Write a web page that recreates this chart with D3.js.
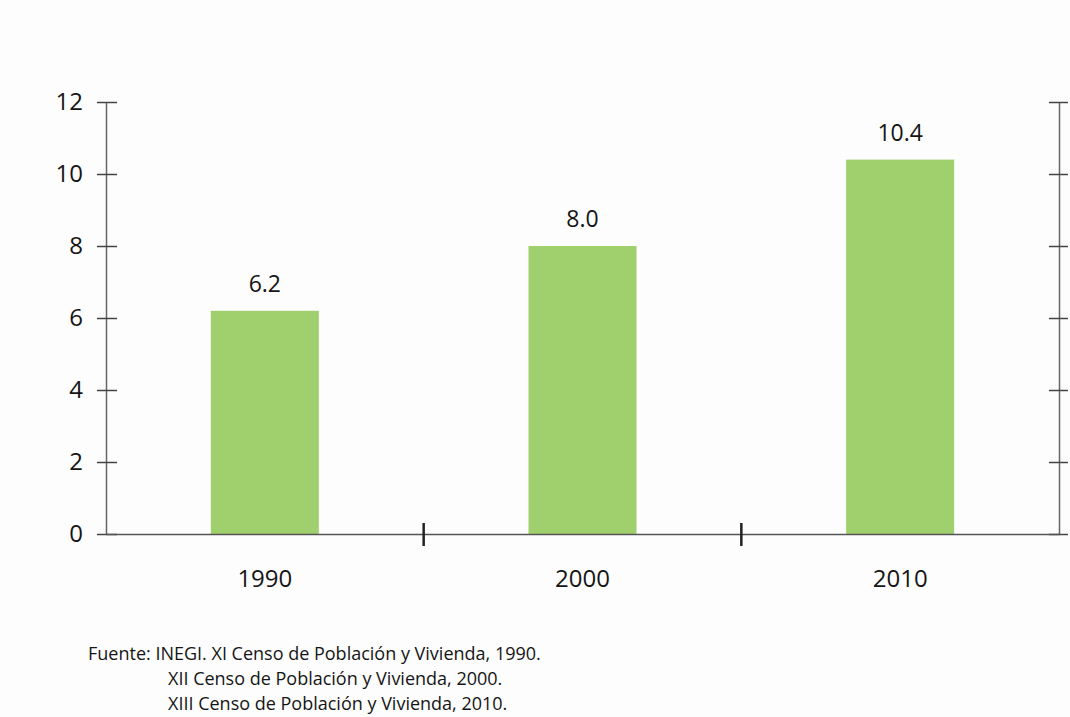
<!DOCTYPE html>
<html>
<head>
<meta charset="utf-8">
<script src="https://cdn.jsdelivr.net/npm/d3@7"></script>
<style>
  body { margin: 0; background: #fdfdfd; }
  text { font-family: "Open Sans", "Noto Sans", sans-serif; fill: #151515; }
</style>
</head>
<body>
<script>
// data
const years = ["1990", "2000", "2010"]
const values = [6.2, 8.0, 10.4]
const yTicks = [0, 2, 4, 6, 8, 10, 12]
const sourceLines = [
    "Fuente: INEGI. XI Censo de Población y Vivienda, 1990.",
    "XII Censo de Población y Vivienda, 2000.",
    "XIII Censo de Población y Vivienda, 2010."
]

let w = 1070
let h = 717
let margin = {left: 106, right: 10, top: 102, bottom: 183}

let svg = d3.select("body")
    .append("svg")
    .attr("width", w)
    .attr("height", h)
    .attr("style", "background-color:#fdfdfd")

let x = d3.scaleBand()
    .domain(years)
    .range([margin.left, w - margin.right - 1])
    .paddingInner(0.66)
    .paddingOuter(0.33)

let y = d3.scaleLinear()
    .domain([0, 12])
    .range([h - margin.bottom, margin.top])

let x0 = margin.left, x1 = w - margin.right - 1

// bars
svg.append("g")
    .selectAll("rect")
    .data(values)
    .enter().append("rect")
    .attr("x", (d, i) => x(years[i]))
    .attr("width", x.bandwidth())
    .attr("y", d => y(d))
    .attr("height", d => y(0) - y(d))
    .attr("fill", "#9fd06d")

// value labels
svg.append("g")
    .selectAll("text")
    .data(values)
    .enter().append("text")
    .attr("x", (d, i) => x(years[i]) + x.bandwidth() / 2)
    .attr("y", d => y(d) - 19)
    .attr("text-anchor", "middle")
    .attr("font-size", 23)
    .text(d => d.toFixed(1))

// left axis
let left = svg.append("g")
    .attr("transform", "translate(" + x0 + ",0)")
    .call(d3.axisLeft(y).tickValues(yTicks).tickSize(0).tickPadding(23))
left.select(".domain").attr("stroke", "#666").attr("stroke-width", 1.5)
left.selectAll(".tick text").attr("font-size", 24).attr("fill", "#151515")
left.selectAll(".tick").append("line")
    .attr("x1", -9).attr("x2", 11)
    .attr("stroke", "#444").attr("stroke-width", 1.5)

// right axis
let right = svg.append("g")
    .attr("transform", "translate(" + x1 + ",0)")
    .call(d3.axisRight(y).tickValues(yTicks).tickSize(0).tickFormat(""))
right.select(".domain").attr("stroke", "#666").attr("stroke-width", 1.5)
right.selectAll(".tick").append("line")
    .attr("x1", -10).attr("x2", 9)
    .attr("stroke", "#444").attr("stroke-width", 1.5)

// bottom axis
let bottom = svg.append("g")
    .attr("transform", "translate(0," + y(0) + ")")
    .call(d3.axisBottom(x).tickSize(0).tickPadding(36))
bottom.select(".domain").attr("stroke", "#555").attr("stroke-width", 1.5)
bottom.selectAll(".tick text").attr("font-size", 24).attr("fill", "#151515")

// category separators
let step = x.step()
svg.append("g")
    .selectAll("line")
    .data(years.slice(1))
    .enter().append("line")
    .attr("x1", d => x(d) - x.paddingInner() * step / 2)
    .attr("x2", d => x(d) - x.paddingInner() * step / 2)
    .attr("y1", y(0) - 11)
    .attr("y2", y(0) + 12)
    .attr("stroke", "#222")
    .attr("stroke-width", 2.5)

// source note
svg.append("g")
    .selectAll("text")
    .data(sourceLines)
    .enter().append("text")
    .attr("x", (d, i) => i === 0 ? 88 : 168)
    .attr("y", (d, i) => 660 + i * 25)
    .attr("font-size", 18)
    .attr("fill", "#222")
    .text(d => d)
</script>
</body>
</html>
